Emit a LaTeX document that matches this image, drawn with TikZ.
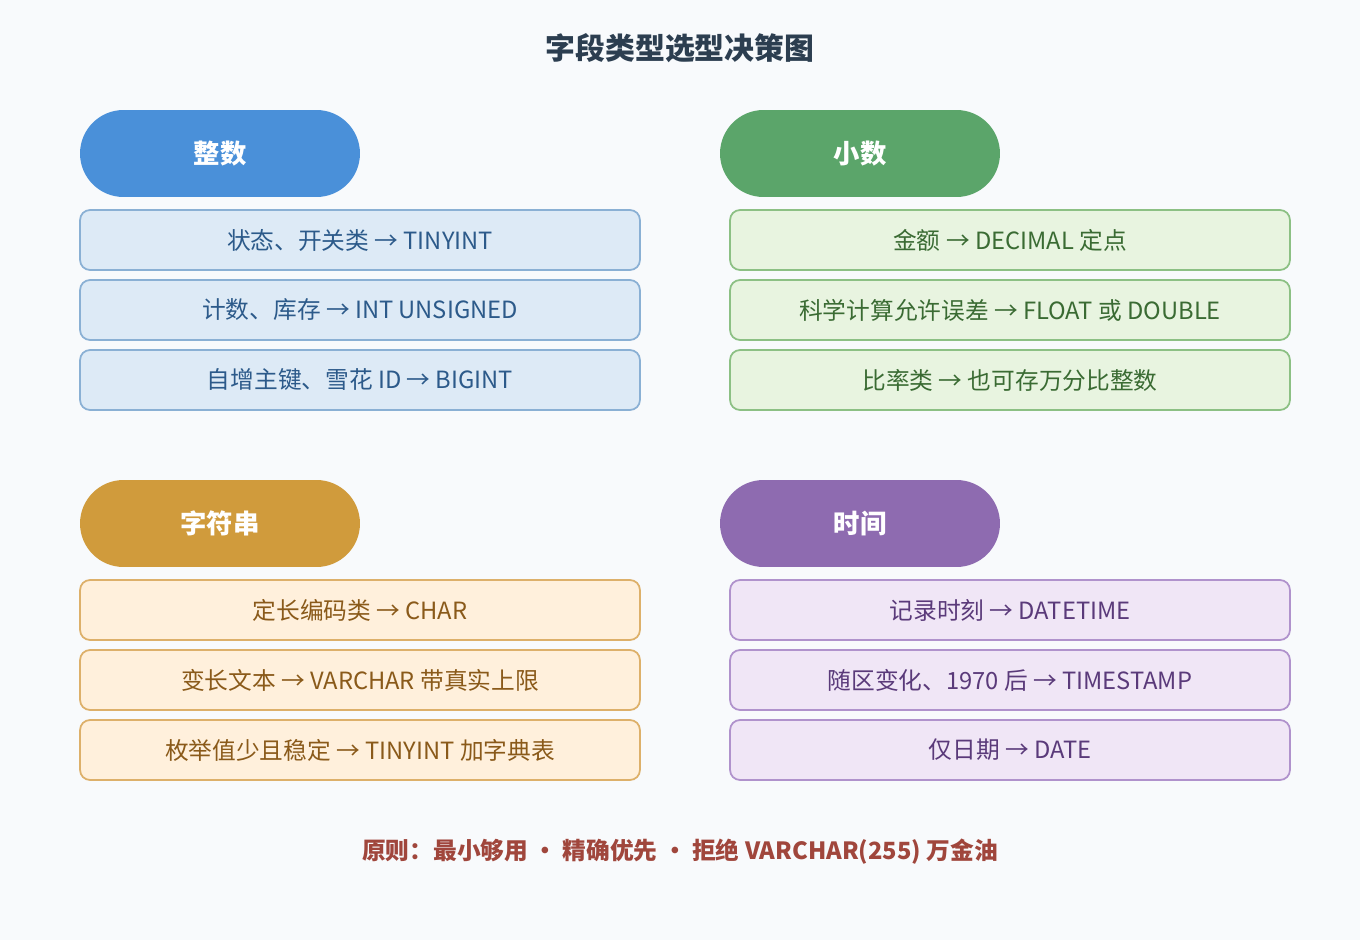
\documentclass[tikz,border=0pt]{standalone}
\usepackage{fontspec}
\setmainfont{Noto Sans CJK SC}
\usetikzlibrary{calc}
\definecolor{bgcol}{HTML}{F8FAFC}
\definecolor{titlecol}{HTML}{2C3E50}
\definecolor{footcol}{HTML}{A0463C}
\definecolor{intmain}{HTML}{4A90D9}
\definecolor{intfill}{HTML}{DDEAF6}
\definecolor{intline}{HTML}{8AB0D4}
\definecolor{inttext}{HTML}{2C5A8A}
\definecolor{decmain}{HTML}{5BA56A}
\definecolor{decfill}{HTML}{E8F4E0}
\definecolor{decline}{HTML}{8CC084}
\definecolor{dectext}{HTML}{3A6B33}
\definecolor{strmain}{HTML}{D09B3C}
\definecolor{strfill}{HTML}{FFF0DC}
\definecolor{strline}{HTML}{DDB06A}
\definecolor{strtext}{HTML}{8A5A1A}
\definecolor{timemain}{HTML}{8E6BB0}
\definecolor{timefill}{HTML}{F0E6F6}
\definecolor{timeline}{HTML}{B092CC}
\definecolor{timetext}{HTML}{5A3A7A}
\tikzset{
  header/.style={fill=#1main, draw=none, rounded corners=8.7mm, minimum width=56mm, minimum height=17.4mm, text=white, font=\fontsize{15}{18}\selectfont\bfseries},
  item/.style={fill=#1fill, draw=#1line, line width=1pt, rounded corners=2mm, minimum width=112mm, minimum height=12mm, text=#1text, font=\fontsize{13.5}{16}\selectfont},
}
\begin{document}
\begin{tikzpicture}[x=0.02cm, y=-0.02cm]
\fill[bgcol] (0,0) rectangle (1360,940);
\useasboundingbox (0,0) rectangle (1360,940);
\node[text=titlecol, font=\fontsize{17}{20}\selectfont\bfseries] (title) at (680,48) {字段类型选型决策图};

% Integer
\node[header=int] (inthead) at (220,153.5) {整数};
\node[item=int] (int1) at (360,240) {状态、开关类 → TINYINT};
\node[item=int] (int2) at (360,310) {计数、库存 → INT UNSIGNED};
\node[item=int] (int3) at (360,380) {自增主键、雪花 ID → BIGINT};

% Decimal
\node[header=dec] (dechead) at (860,153.5) {小数};
\node[item=dec] (dec1) at (1010,240) {金额 → DECIMAL 定点};
\node[item=dec] (dec2) at (1010,310) {科学计算允许误差 → FLOAT 或 DOUBLE};
\node[item=dec] (dec3) at (1010,380) {比率类 → 也可存万分比整数};

% String
\node[header=str] (strhead) at (220,523.5) {字符串};
\node[item=str] (str1) at (360,610) {定长编码类 → CHAR};
\node[item=str] (str2) at (360,680) {变长文本 → VARCHAR 带真实上限};
\node[item=str] (str3) at (360,750) {枚举值少且稳定 → TINYINT 加字典表};

% Time
\node[header=time] (timehead) at (860,523.5) {时间};
\node[item=time] (time1) at (1010,610) {记录时刻 → DATETIME};
\node[item=time] (time2) at (1010,680) {随区变化、1970 后 → TIMESTAMP};
\node[item=time] (time3) at (1010,750) {仅日期 → DATE};

\node[text=footcol, font=\fontsize{13.5}{16}\selectfont\bfseries] (foot) at (680,852) {原则：最小够用 • 精确优先 • 拒绝 VARCHAR(255) 万金油};
\end{tikzpicture}
\end{document}
